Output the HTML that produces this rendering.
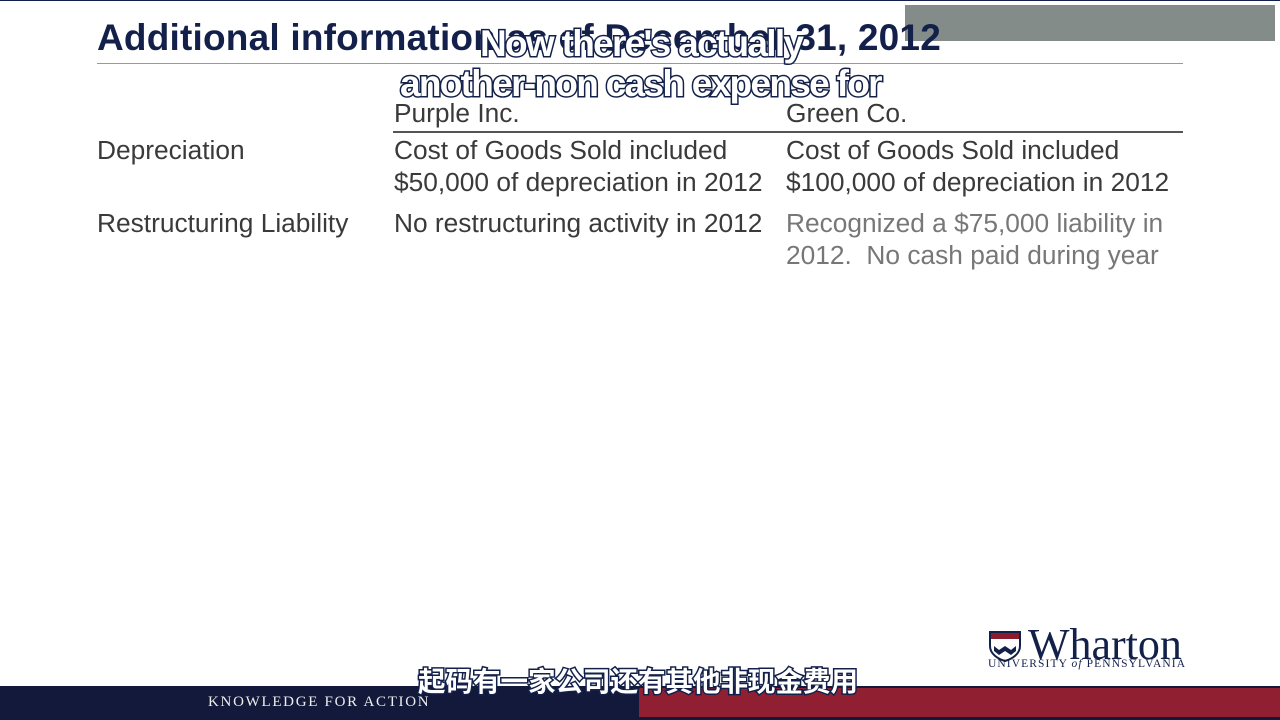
<!DOCTYPE html>
<html><head><meta charset="utf-8"><style>
body{margin:0;width:1280px;height:720px;position:relative;overflow:hidden;background:#fff;font-family:"Liberation Sans",Arial,sans-serif}
.a{position:absolute;white-space:nowrap}
.t{font-size:26.3px;color:#3a3a3a;line-height:32px}
.sub{font-size:37px;color:#fff;-webkit-text-stroke:3px #13204a;paint-order:stroke fill;font-weight:bold;letter-spacing:-1.7px}
</style></head><body>
<div class="a" style="left:0;top:0;width:1280px;height:1px;background:#13204a"></div>
<div class="a" style="left:905px;top:5px;width:370px;height:36px;background:#838c89"></div>
<div class="a" style="left:97px;top:17px;font-size:37px;font-weight:bold;color:#13204a;letter-spacing:0.2px">Additional information as of December 31, 2012</div>
<div class="a" style="left:97px;top:63px;width:1086px;height:1px;background:#999"></div>
<div class="a t" style="left:394px;top:97px">Purple Inc.</div>
<div class="a t" style="left:786px;top:97px">Green Co.</div>
<div class="a" style="left:393px;top:131px;width:790px;height:2px;background:#555"></div>
<div class="a t" style="left:97px;top:134px">Depreciation</div>
<div class="a t" style="left:394px;top:134px">Cost of Goods Sold included<br>$50,000 of depreciation in 2012</div>
<div class="a t" style="left:786px;top:134px">Cost of Goods Sold included<br>$100,000 of depreciation in 2012</div>
<div class="a t" style="left:97px;top:207px">Restructuring Liability</div>
<div class="a t" style="left:394px;top:207px">No restructuring activity in 2012</div>
<div class="a t" style="left:786px;top:207px;color:#777">Recognized a $75,000 liability in<br>2012.&nbsp; No cash paid during year</div>
<div class="a sub" style="left:480px;top:23px">Now there's actually</div>
<div class="a sub" style="left:400px;top:63px">another-non cash expense for</div>
<div class="a" style="left:988px;top:628px;width:200px;height:45px">
<svg width="34" height="32" style="position:absolute;left:0;top:2px"><path d="M2 2h30v14c0 8-8 13-15 15C10 29 2 24 2 16z" fill="#fff" stroke="#13204a" stroke-width="2"/><rect x="3" y="3" width="28" height="6" fill="#8b1c2e"/><path d="M6 16l5 4 6-4 6 4 5-4v5l-5 4-6-4-6 4-5-4z" fill="#13204a"/></svg>
<div class="a" style="left:40px;top:-9px;font-family:'Liberation Serif',serif;font-size:44px;color:#13204a;letter-spacing:0">Wharton</div>
<div class="a" style="left:0;top:30px;font-family:'Liberation Serif',serif;font-size:11.5px;color:#13204a;letter-spacing:1.1px">UNIVERSITY <i>of</i> PENNSYLVANIA</div>
</div>
<div class="a" style="left:0;top:686px;width:1280px;height:34px;background:#13193a"></div>
<div class="a" style="left:639px;top:688px;width:641px;height:29px;background:#911f32"></div>
<div class="a" style="left:208px;top:694px;font-family:'Liberation Serif',serif;font-size:15px;color:#eee;letter-spacing:1.7px">KNOWLEDGE FOR ACTION</div>
<div class="a sub" style="left:418px;top:659px;font-size:27.5px;letter-spacing:0;font-family:'Liberation Sans','Noto Sans CJK SC',sans-serif">起码有一家公司还有其他非现金费用</div>
</body></html>
